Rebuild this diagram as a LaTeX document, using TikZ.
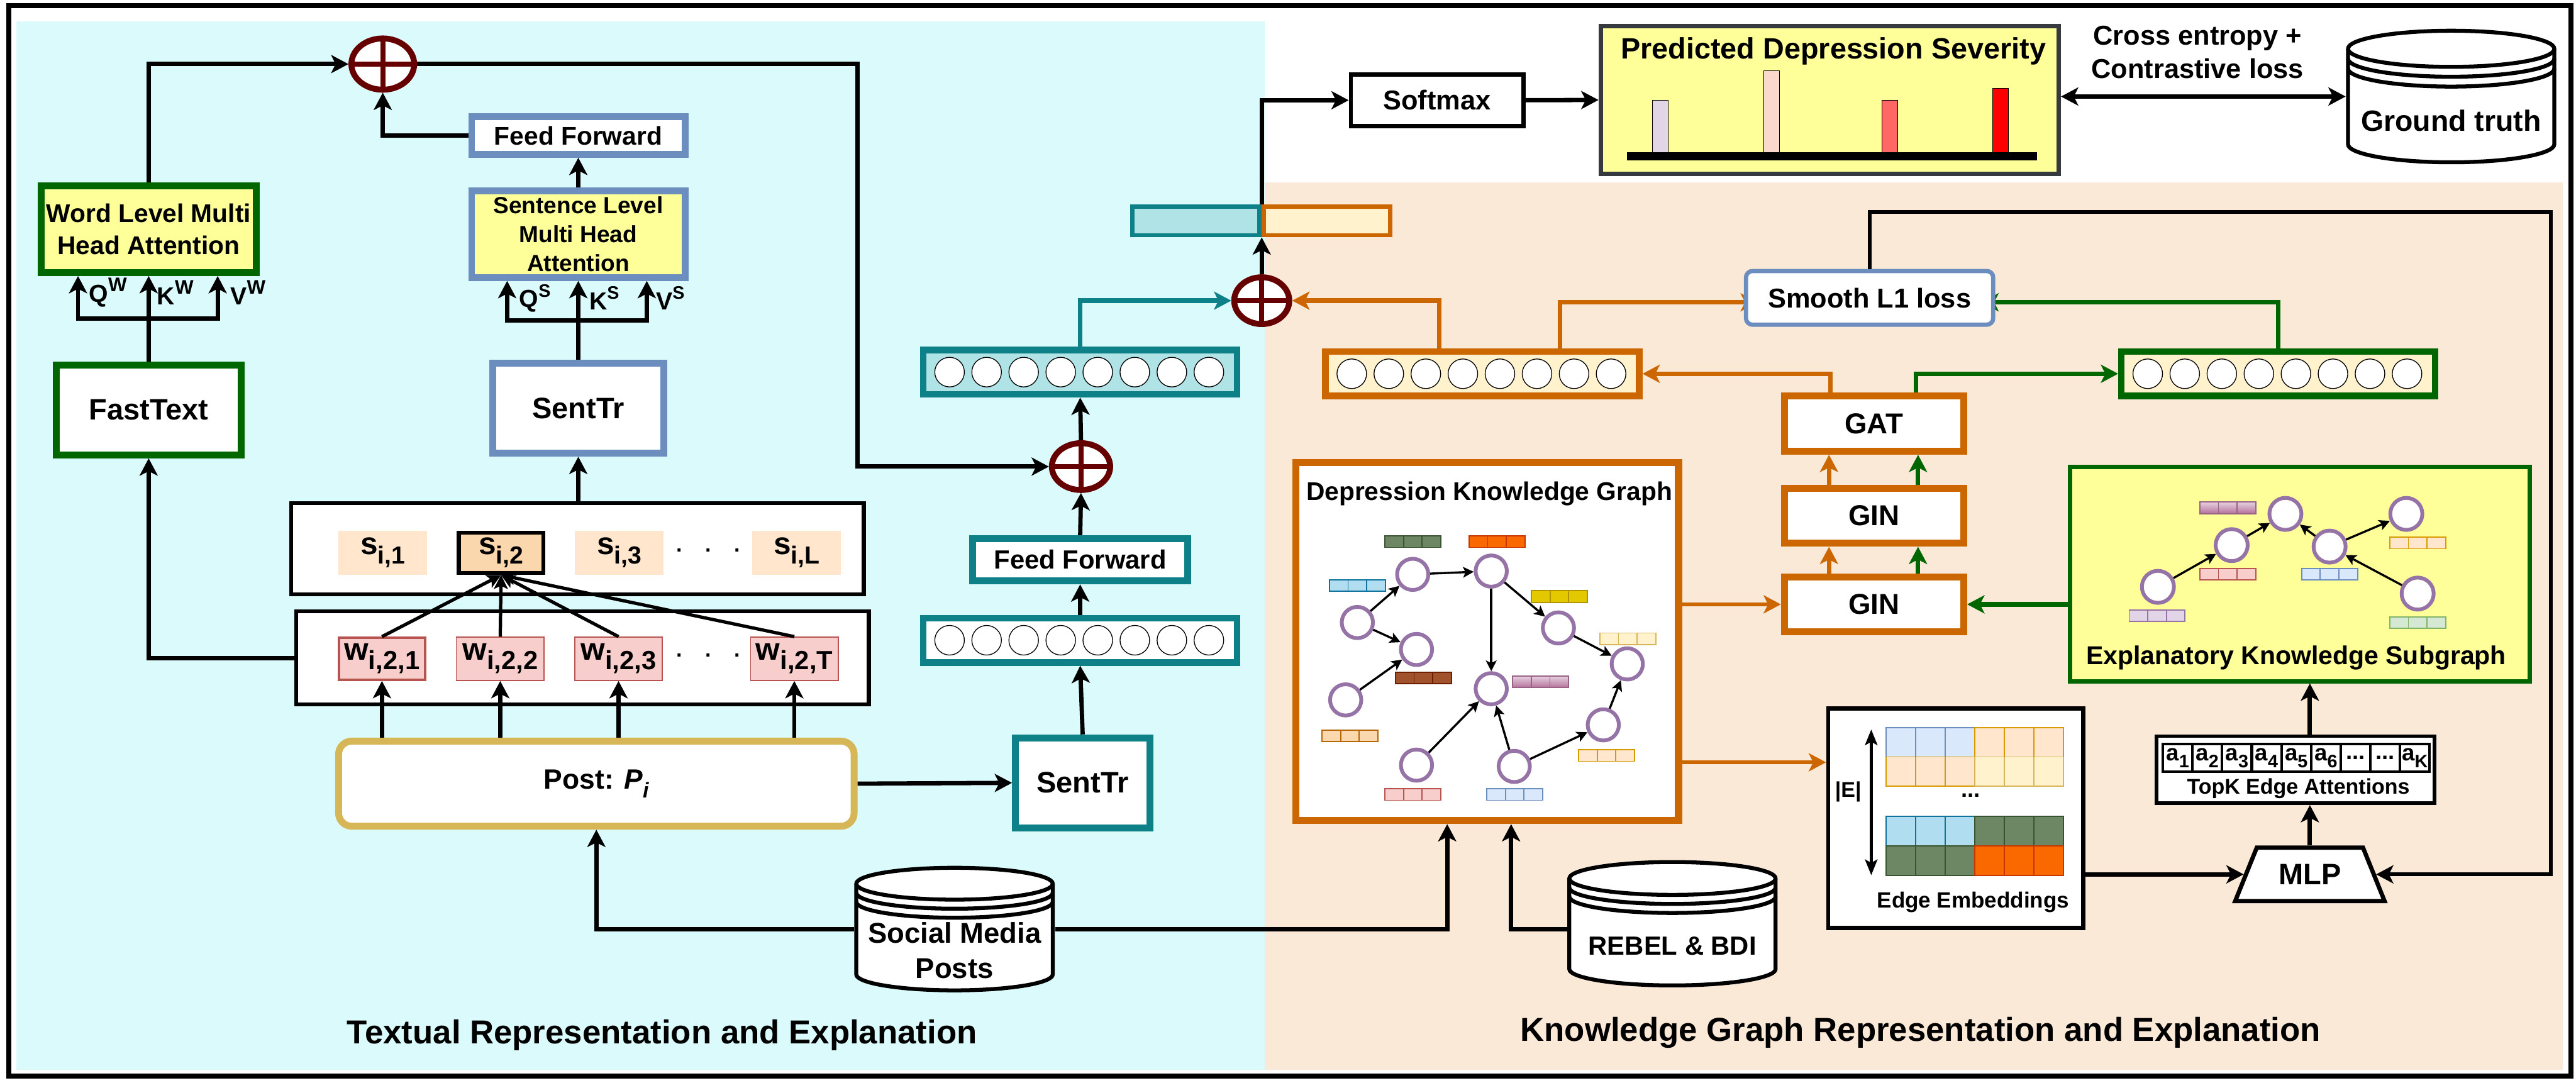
\documentclass[tikz,border=0pt]{standalone}
\usepackage{fontspec}
\setmainfont{Liberation Sans}
\linespread{1.23}
\usepackage{tikz}
\usetikzlibrary{positioning,calc,arrows.meta,shapes.geometric}

\definecolor{cyanbg}{HTML}{DAFAFC}
\definecolor{peachbg}{HTML}{FBE9D8}
\definecolor{paleyellow}{HTML}{FFFF99}
\definecolor{sentblue}{HTML}{6C8EBF}
\definecolor{wordgreen}{HTML}{006600}
\definecolor{tealline}{HTML}{0E8088}
\definecolor{tealfill}{HTML}{B0E3E6}
\definecolor{kgorange}{HTML}{CC6600}
\definecolor{creamfill}{HTML}{FFF2CC}
\definecolor{creamline}{HTML}{D6B656}
\definecolor{addred}{HTML}{660000}
\definecolor{nodepurple}{HTML}{9673A6}
\definecolor{lilacfill}{HTML}{E1D5E7}
\definecolor{redfill}{HTML}{F8CECC}
\definecolor{redline}{HTML}{B85450}
\definecolor{bluefill}{HTML}{DAE8FC}
\definecolor{orangefill}{HTML}{FFE6CC}
\definecolor{orangeline}{HTML}{D79B00}
\definecolor{apricotfill}{HTML}{FAD7AC}
\definecolor{apricotline}{HTML}{B46504}
\definecolor{skyfill}{HTML}{B1DDF0}
\definecolor{skyline}{HTML}{10739E}
\definecolor{olivefill}{HTML}{6D8764}
\definecolor{oliveline}{HTML}{3A5431}
\definecolor{firefill}{HTML}{FA6800}
\definecolor{fireline}{HTML}{C73500}
\definecolor{goldfill}{HTML}{E3C800}
\definecolor{goldline}{HTML}{B09500}
\definecolor{brownfill}{HTML}{A0522D}
\definecolor{brownline}{HTML}{6D1F00}
\definecolor{mintfill}{HTML}{D5E8D4}
\definecolor{mintline}{HTML}{82B366}
\definecolor{pinktop}{HTML}{E6D0DE}
\definecolor{pinkbot}{HTML}{B5739D}
\definecolor{pinkline}{HTML}{996185}
\definecolor{steelline}{HTML}{36393D}

\newcommand{\subidx}[2]{\raisebox{-.3em}{\fontsize{#1}{#1}\selectfont #2}}
\newcommand{\supidx}[2]{\raisebox{.42em}{\fontsize{#1}{#1}\selectfont #2}}
\newcommand{\attdots}{...}
\newcommand{\dbstack}[7]{
    \pgfmathsetmacro{\dbl}{#2-#4/2+1.2}
    \pgfmathsetmacro{\dbr}{#2+#4/2-1.2}
    \pgfmathsetmacro{\dbt}{#3-#5/2+#6+1.2}
    \pgfmathsetmacro{\dbb}{#3+#5/2-#6-1.2}
    \pgfmathsetmacro{\dbrx}{#4/2-1.2}
    \draw[line width=2.4pt,fill=white] (\dbl,\dbt) arc[start angle=180,end angle=0,x radius=\dbrx pt,y radius=#6 pt] -- (\dbr,\dbb) arc[start angle=0,end angle=-180,x radius=\dbrx pt,y radius=#6 pt] -- cycle;
    \foreach \k in {0,1,2}
      \draw[line width=2.4pt] (\dbl,{\dbt+\k*#7}) arc[start angle=180,end angle=360,x radius=\dbrx pt,y radius=#6 pt];
}

\tikzset{
    txt/.style={font=\bfseries\fontsize{#1}{#1}\selectfont},
    box/.style={rectangle,draw,fill=white,inner sep=0pt,align=center},
    heavy/.style={box,line width=4.2pt},
    medium/.style={box,line width=2.6pt},
    addnode/.style={ellipse,draw=addred,fill=white,line width=3.6pt,inner sep=0pt,
      path picture={\draw[addred,line width=3pt] (path picture bounding box.north) -- (path picture bounding box.south) (path picture bounding box.west) -- (path picture bounding box.east);}},
    vecbox/.style={box,line width=4pt,minimum width=191pt,minimum height=27pt},
    slot/.style={circle,draw,fill=white,line width=.5pt,minimum size=18pt,inner sep=0pt},
    cellbox/.style={box,draw=#1,minimum width=53.4pt,minimum height=26.4pt,line width=.6pt},
    gnode/.style={circle,draw=nodepurple,fill=white,line width=2.3pt,minimum size=19pt,inner sep=0pt},
    acell/.style={box,line width=1.6pt,minimum width=18.05pt,minimum height=17pt,txt=14},
    arr/.style={-{Stealth[length=10.5pt,width=11pt,inset=2.7pt]},line width=2.6pt},
    thinarr/.style={-{Stealth[length=8.5pt,width=8.5pt,inset=2pt]},line width=2pt},
    garr/.style={-{Stealth[length=6.5pt,width=6.5pt,inset=1.5pt]},line width=1.3pt},
    emblue/.style={draw=sentblue,fill=bluefill,line width=.7pt},
    emorange/.style={draw=orangeline,fill=orangefill,line width=.7pt},
    emcream/.style={draw=creamline,fill=creamfill,line width=.7pt},
    emsky/.style={draw=skyline,fill=skyfill,line width=.7pt},
    emolive/.style={draw=oliveline,fill=olivefill,line width=.7pt},
    emfire/.style={draw=fireline,fill=firefill,line width=.7pt},
    emgold/.style={draw=goldline,fill=goldfill,line width=.7pt},
    embrown/.style={draw=brownline,fill=brownfill,line width=.7pt},
    empink/.style={draw=pinkline,top color=pinktop,bottom color=pinkbot,line width=.7pt},
    emapricot/.style={draw=apricotline,fill=apricotfill,line width=.7pt},
    emred/.style={draw=redline,fill=redfill,line width=.7pt},
    emlilac/.style={draw=nodepurple,fill=lilacfill,line width=.7pt},
    emmint/.style={draw=mintline,fill=mintfill,line width=.7pt}
}

\begin{document}
\begin{tikzpicture}[x=1pt,y=-1pt]
    \useasboundingbox (0,0) rectangle (1568,659);
    \fill[cyanbg] (10,13) rectangle (770,651);
    \fill[peachbg] (770,111) rectangle (1560,651);
    \draw[line width=3pt] (5.5,3.5) rectangle (1565,655);

    \node[txt=20.2] (texttitle) at (403,630) {Textual Representation and Explanation};
    \node[txt=20.2] (kgtitle) at (1169,628.5) {Knowledge Graph Representation and Explanation};

    \node[heavy,draw=wordgreen,txt=18,minimum width=112.8pt,minimum height=54.8pt] (fasttext) at (90.5,249.5) {FastText};
    \node[heavy,draw=wordgreen,fill=paleyellow,txt=15.6,minimum width=130.8pt,minimum height=52.8pt] (word) [above=52pt of fasttext] {Word Level Multi\\Head Attention};
    \node[heavy,draw=sentblue,txt=18,minimum width=103.8pt,minimum height=54.8pt] (senta) at (352,248.5) {SentTr};
    \node[heavy,draw=sentblue,fill=paleyellow,txt=14.2,minimum width=129.8pt,minimum height=52.8pt] (sentlevel) [above=48pt of senta] {Sentence Level\\Multi Head\\Attention};
    \node[heavy,draw=sentblue,txt=15.6,minimum width=129.8pt,minimum height=22.8pt] (ffa) [above=18pt of sentlevel] {Feed Forward};
    \node[addnode,minimum width=38.2pt,minimum height=31.2pt] (adda) at (233,39) {};

    \node[box,line width=2.4pt,minimum width=348.6pt,minimum height=55.6pt] (sbox) at (351.5,334) {};
    \node[box,line width=2.4pt,minimum width=348.6pt,minimum height=56.6pt] (wbox) at (354.5,400.5) {};
    \node[cellbox=orangefill,fill=orangefill,txt=19] (sa) at (233,336.5) {s\subidx{15}{i,1}};
    \node[cellbox=black,fill=apricotfill,line width=2.5pt,minimum width=51.5pt,minimum height=24.5pt,txt=19] (sb) [right=18pt of sa] {s\subidx{15}{i,2}};
    \node[cellbox=orangefill,fill=orangefill,txt=19] (sc) [right=18pt of sb] {s\subidx{15}{i,3}};
    \node[cellbox=orangefill,fill=orangefill,txt=19] (sl) [right=54pt of sc] {s\subidx{15}{i,L}};
    \node[cellbox=redline,fill=redfill,line width=1.5pt,minimum width=52.5pt,minimum height=25.5pt,txt=19] (wa) at (232.5,401) {w\subidx{16}{i,2,1}};
    \node[cellbox=redline,fill=redfill,txt=19] (wb) [right=18pt of wa] {w\subidx{16}{i,2,2}};
    \node[cellbox=redline,fill=redfill,txt=19] (wc) [right=18pt of wb] {w\subidx{16}{i,2,3}};
    \node[cellbox=redline,fill=redfill,txt=19] (wt) [right=53pt of wc] {w\subidx{16}{i,2,T}};
    \node[txt=13,inner sep=0pt] (sdots) at (431,335) {.\hspace{14pt}.\hspace{14pt}.};
    \node[txt=13,inner sep=0pt] (wdots) at (431,399) {.\hspace{14pt}.\hspace{14pt}.};
    \node[heavy,draw=creamline,rounded corners=8pt,txt=17,minimum width=313.8pt,minimum height=51.8pt] (post) at (363,477) {Post: {\itshape P\subidx{13}{i}}};

    \node[txt=15] (qw) at (65.7,178) {Q\supidx{12}{W}};
    \node[txt=15] (kw) at (106.7,178) {K\supidx{12}{W}};
    \node[txt=15] (vw) at (151,178) {V\supidx{12}{W}};
    \node[txt=15] (qs) at (325.7,181.5) {Q\supidx{11}{S}};
    \node[txt=15] (ks) at (367.8,181.5) {K\supidx{11}{S}};
    \node[txt=15] (vs) at (408,181.5) {V\supidx{11}{S}};

    \coordinate (wordfork) at (90.5,194);
    \coordinate (sentfork) at (352,195);
    \coordinate (turn) at (522,284);
    \draw[arr] (fasttext.north) -- (word.south);
    \draw[arr] (wordfork) -| ([xshift=-43pt]word.south);
    \draw[arr] (wordfork) -| ([xshift=42pt]word.south);
    \draw[arr] (senta.north) -- (sentlevel.south);
    \draw[arr] (sentfork) -| ([xshift=-43.3pt]sentlevel.south);
    \draw[arr] (sentfork) -| ([xshift=41.7pt]sentlevel.south);
    \draw[arr] (sentlevel.north) -- (ffa.south);
    \draw[arr] (sbox.north -| senta.south) -- (senta.south);
    \draw[arr] (word.north) |- (adda.west);
    \draw[arr] (ffa.west) -| (adda.south);
    \draw[arr] (wbox.west) -| (fasttext.south);
    \draw[arr] (post.north -| wa.south) -- (wa.south);
    \draw[arr] (post.north -| wb.south) -- (wb.south);
    \draw[arr] (post.north -| wc.south) -- (wc.south);
    \draw[arr] (post.north -| wt.south) -- (wt.south);
    \draw[thinarr] (wa.north) -- (sb.south);
    \draw[thinarr] (wb.north) -- (sb.south);
    \draw[thinarr] (wc.north) -- (sb.south);
    \draw[thinarr] (wt.north) -- (sb.south);

    \node[heavy,draw=tealline,txt=18,minimum width=81.8pt,minimum height=54.8pt] (sentb) at (659,476.5) {SentTr};
    \node[vecbox,draw=tealline] (veca) at (657.5,389.7) {};
    \node[heavy,draw=tealline,txt=16,minimum width=130.8pt,minimum height=25.8pt] (ffb) [above=18.5pt of veca] {Feed Forward};
    \node[addnode,minimum width=35.5pt,minimum height=28.5pt] (addb) at (658,284) {};
    \node[vecbox,draw=tealline,fill=tealfill] (vecb) at (657.5,226.5) {};
    \node[addnode,minimum width=33.5pt,minimum height=28.5pt] (addc) at (768,183) {};
    \node[vecbox,draw=kgorange,fill=creamfill] (vecc) at (902.3,227.5) {};
    \node[vecbox,draw=wordgreen,fill=creamfill] (vecd) at (1386.8,227.5) {};
    \foreach \v in {veca,vecb,vecc,vecd}
      \foreach \k in {0,...,7}
        \node[slot] (\v\k) at ($(\v.west)+({18+\k*22.55},0)$) {};
    \node[medium,draw=tealline,fill=tealfill,minimum width=77.4pt,minimum height=17.4pt] (catl) at (728,134.5) {};
    \node[medium,draw=kgorange,fill=creamfill,minimum width=76.9pt,minimum height=17.4pt] (catr) [right=0pt of catl] {};

    \draw[arr] (post.east) -- (sentb.west);
    \draw[arr] (sentb.north) -- (veca.south);
    \draw[arr] (veca.north) -- (ffb.south);
    \draw[arr] (ffb.north) -- (addb.south);
    \draw[arr] (addb.north) -- (vecb.south);
    \draw[arr] (adda.east) -| (turn) -- (addb.west);
    \draw[arr,tealline,line width=2.8pt] (vecb.north) |- (addc.west);
    \draw[arr] (addc.north) -- (catl.south east);

    \node[medium,txt=16.6,minimum width=105pt,minimum height=31.5pt] (softmax) at (874.75,61) {Softmax};
    \node[medium,draw=steelline,fill=paleyellow,minimum width=278.9pt,minimum height=89.7pt] (pred) at (1113.75,60.85) {};
    \node[txt=17.9] (predtitle) at (1116,31) {Predicted Depression Severity};
    \draw[line width=.4pt,fill=lilacfill] (1006,61) rectangle (1015.5,93);
    \draw[line width=.4pt,fill=orangefill!40!redfill] (1073.5,43) rectangle (1083,93);
    \draw[line width=.4pt,fill=red!60!white] (1145.5,61) rectangle (1155,93);
    \draw[line width=.4pt,fill=red] (1213,53.6) rectangle (1222.5,93.5);
    \fill[black] (990.5,92.5) rectangle (1240,97.5);
    \node[txt=16.6,align=center] (losstxt) at (1337.6,31.7) {Cross entropy +\\Contrastive loss};

    \dbstack{truth}{1492}{58.75}{128}{82.5}{11}{6}
    \node[inner sep=0pt,minimum width=128pt,minimum height=82.5pt,label={[txt=17.8,yshift=-14.75pt]center:Ground truth}] (truth) at (1492,58.75) {};
    \dbstack{posts}{581}{565.5}{122}{77}{9.7}{5.5}
    \node[inner sep=0pt,minimum width=122pt,minimum height=77pt,label={[txt=17.4,align=center,yshift=-13pt]center:Social Media\\Posts}] (posts) at (581,565.5) {};
    \dbstack{rebel}{1018}{562.25}{128}{77.5}{10}{5.5}
    \node[inner sep=0pt,minimum width=128pt,minimum height=77.5pt,label={[txt=16,yshift=-13.75pt]center:REBEL \& BDI}] (rebel) at (1018,562.25) {};

    \draw[arr] (catr.north west) |- (softmax.west);
    \draw[arr] (softmax.east) -- (pred.west);
    \draw[{Stealth[length=10.5pt,width=11pt,inset=2.7pt]}-{Stealth[length=10.5pt,width=11pt,inset=2.7pt]},line width=2.8pt] (truth.west -| pred.east) -- (truth.west);

    \node[box,draw=kgorange,line width=4.4pt,minimum width=233pt,minimum height=217.9pt] (kg) at (905.3,390.45) {};
    \node[txt=15.6] (kgname) at (906.5,300.6) {Depression Knowledge Graph};
    \foreach \cx/\cy/\cs in {843/326.2/emolive,894.2/326.2/emfire,809.2/352.8/emsky,932.2/359.6/emgold,973.8/385.3/emcream,849.4/409.2/embrown,920.8/411.5/empink,804.7/444.3/emapricot,960.9/456.4/emorange,843/480.1/emred,905/480.1/emblue}
      \foreach \k in {0,1,2}
        \draw[\cs] ({\cx+\k*11.33},\cy) rectangle ++(11.33,7);
    \node[gnode] (na) at (859.9,349.6) {};
    \node[gnode] (nb) at (907.7,347.6) {};
    \node[gnode] (nc) at (826.2,378.9) {};
    \node[gnode] (nd) at (862.2,395.3) {};
    \node[gnode] (ne) at (948.6,382.2) {};
    \node[gnode] (nf) at (990.5,404.1) {};
    \node[gnode] (ng) at (819.1,426) {};
    \node[gnode] (nh) at (907.7,419.2) {};
    \node[gnode] (ni) at (975.9,441.2) {};
    \node[gnode] (nj) at (862.2,465.7) {};
    \node[gnode] (nk) at (921.7,466.5) {};
    \foreach \s/\e in {nc/na,na/nb,nc/nd,ng/nd,nb/ne,nb/nh,ne/nf,nj/nh,nk/nh,nk/ni,ni/nf}
      \draw[garr] (\s) -- (\e);

    \node[heavy,draw=kgorange,txt=17.5,minimum width=109.2pt,minimum height=33.5pt] (gina) at (1140.7,367.85) {GIN};
    \node[heavy,draw=kgorange,txt=17.5,minimum width=109.2pt,minimum height=33.6pt] (ginb) [above=16.2pt of gina] {GIN};
    \node[heavy,draw=kgorange,txt=17.5,minimum width=109.2pt,minimum height=33.8pt] (gat) [above=18.2pt of ginb] {GAT};

    \node[medium,draw=wordgreen,fill=paleyellow,minimum width=279.8pt,minimum height=130.4pt] (expl) at (1399.8,349.5) {};
    \node[txt=15.7] (explname) at (1397.7,400.6) {Explanatory Knowledge Subgraph};
    \foreach \cx/\cy/\cs in {1339/305.6/empink,1339/346/emred,1401/346/emblue,1454.6/327/emorange,1296/371.3/emlilac,1454.6/375.5/emmint}
      \foreach \k in {0,1,2}
        \draw[\cs] ({\cx+\k*11.33},\cy) rectangle ++(11.33,7);
    \node[gnode,minimum size=19.5pt] (ea) at (1313.5,357.2) {};
    \node[gnode,minimum size=19.5pt] (eb) at (1358.4,331.8) {};
    \node[gnode,minimum size=19.5pt] (ec) at (1391.1,312.8) {};
    \node[gnode,minimum size=19.5pt] (ed) at (1418,332.7) {};
    \node[gnode,minimum size=19.5pt] (ee) at (1464.7,312.8) {};
    \node[gnode,minimum size=19.5pt] (ef) at (1471.6,361.3) {};
    \foreach \s/\e in {ea/eb,eb/ec,ed/ec,ed/ee,ef/ed}
      \draw[garr] (\s) -- (\e);

    \node[medium,minimum width=155.4pt,minimum height=133.4pt] (edge) at (1190.5,498) {};
    \foreach \gx/\gy/\gs in {1148/443/emblue,1202/443/emorange,1148/460.7/emorange,1202/460.7/emcream,1148/497/emsky,1202/497/emolive,1148/515/emolive,1202/515/emfire}
      \foreach \k in {0,1,2}
        \draw[\gs] ({\gx+\k*18},\gy) rectangle ++(18,17.8);
    \node[txt=14] (griddots) at (1199.5,484) {...};
    \node[txt=13] (edgesize) at (1125,482) {|E|};
    \node[txt=13.4] (edgename) at (1201,549) {Edge Embeddings};
    \coordinate (sizetop) at (1139,444);
    \coordinate (sizebot) at (1139,532.7);
    \draw[{Stealth[length=9.5pt,width=7.5pt,inset=2pt]}-{Stealth[length=9.5pt,width=7.5pt,inset=2pt]},line width=1.8pt] (sizetop) -- (sizebot);

    \node[trapezium,draw,fill=white,line width=2.6pt,trapezium stretches=true,trapezium left angle=58,trapezium right angle=58,inner sep=0pt,minimum width=91pt,minimum height=32.6pt,txt=18] (mlp) at (1406,532.2) {MLP};
    \node[box,line width=2.2pt,minimum width=169.3pt,minimum height=40.8pt] (topk) at (1397.25,468.5) {};
    \foreach \k/\t in {1/a\subidx{11}{1},2/a\subidx{11}{2},3/a\subidx{11}{3},4/a\subidx{11}{4},5/a\subidx{11}{5},6/a\subidx{11}{6},7/\attdots,8/\attdots,9/a\subidx{11}{K}}
      \node[acell] (att\k) at ({1325.5+(\k-1)*18.05},461.3) {\t};
    \node[txt=13] (topkname) at (1399,480) {TopK Edge Attentions};

    \coordinate (smoothin) at (1070,184);
    \coordinate (smoothout) at (1206,184);
    \coordinate (edgein) at ([yshift=34pt]edge.west);
    \coordinate (loopcorner) at (1552.6,129);
    \draw[arr,kgorange,line width=2.8pt] ([xshift=-26.3pt]vecc.north) |- (addc.east);
    \draw[arr,kgorange,line width=2.8pt] ([xshift=47.2pt]vecc.north) |- (smoothin);
    \draw[arr,wordgreen,line width=2.8pt] (vecd.north) |- (smoothout);
    \draw[arr,kgorange,line width=2.8pt] ([xshift=-26.6pt]gat.north) |- (vecc.east);
    \draw[arr,wordgreen,line width=2.8pt] ([xshift=25.4pt]gat.north) |- (vecd.west);
    \draw[arr,kgorange,line width=2.8pt] ([xshift=-27.4pt]gina.north) -- ([xshift=-27.4pt]ginb.south);
    \draw[arr,wordgreen,line width=2.8pt] ([xshift=26.8pt]gina.north) -- ([xshift=26.8pt]ginb.south);
    \draw[arr,kgorange,line width=2.8pt] ([xshift=-27.4pt]ginb.north) -- ([xshift=-27.4pt]gat.south);
    \draw[arr,wordgreen,line width=2.8pt] ([xshift=26.8pt]ginb.north) -- ([xshift=26.8pt]gat.south);
    \draw[arr,kgorange,line width=2.2pt] (kg.east |- gina.west) -- (gina.west);
    \draw[arr,kgorange,line width=2.2pt] (edgein -| kg.east) -- (edgein);
    \draw[arr,wordgreen,line width=2.8pt] (expl.west |- gina.east) -- (gina.east);
    \draw[arr] (posts.west) -| (post.south);
    \draw[arr] (posts.east) -| ([xshift=-24.4pt]kg.south);
    \draw[arr] (rebel.west |- posts.east) -| ([xshift=14.5pt]kg.south);
    \draw[arr] (mlp.left side -| edge.east) -- (mlp.left side);
    \draw[arr] (mlp.north) -- (mlp.north |- topk.south);
    \draw[arr] (mlp.north |- topk.north) -- (mlp.north |- expl.south);

    \node[medium,draw=sentblue,rounded corners=4pt,txt=16.6,minimum width=150.5pt,minimum height=32.7pt] (smooth) at (1138,181.3) {Smooth L1 loss};
    \draw[arr,line width=2.2pt] (smooth.north) |- (loopcorner) |- (mlp.right side);
\end{tikzpicture}
\end{document}
